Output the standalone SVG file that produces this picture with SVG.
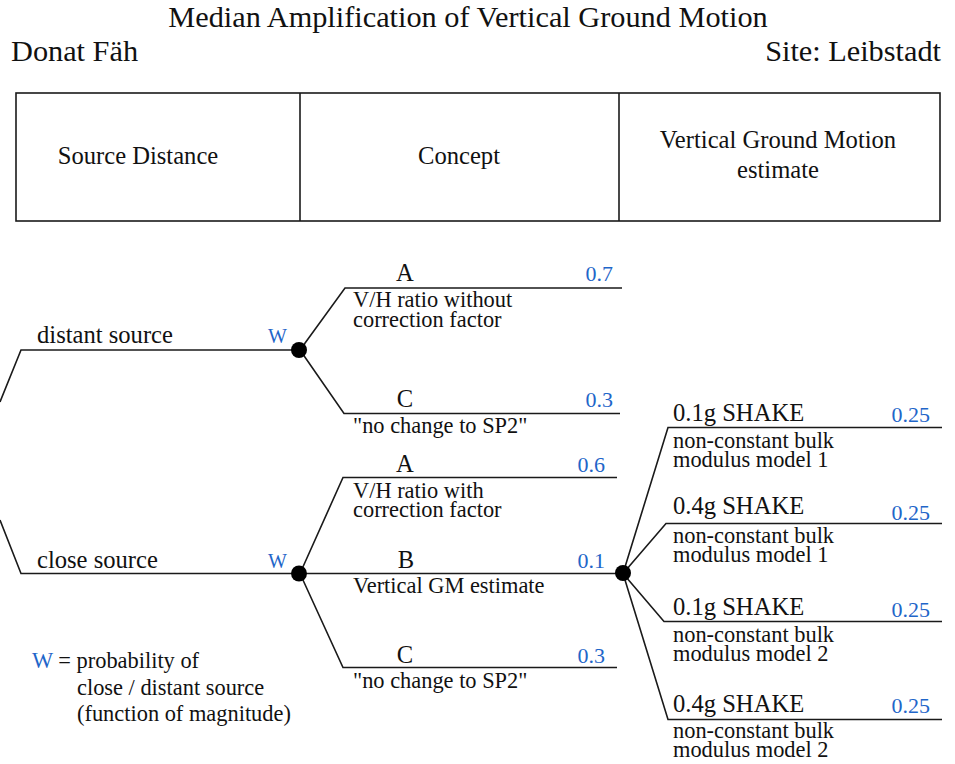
<svg xmlns="http://www.w3.org/2000/svg" width="955" height="764" viewBox="0 0 955 764">
<style>
text{font-family:"Liberation Serif","Times New Roman",serif;fill:#111}
.t{font-size:30.3px}
.h{font-size:24.6px}
.br{font-size:24.6px}
.s{font-size:22.4px}
.v{font-size:22px;fill:#1f66c9;text-anchor:end}
.w{font-size:20px;fill:#1f66c9}
.ln{fill:none;stroke:#1a1a1a;stroke-width:1.6}
.dot{fill:#000}
</style>
<rect width="955" height="764" fill="#fff"/>
<g id="title">
<text class="t" x="468" y="27" text-anchor="middle">Median Amplification of Vertical Ground Motion</text>
<text class="t" x="11" y="61">Donat Fäh</text>
<text class="t" x="941" y="61" text-anchor="end">Site: Leibstadt</text>
</g>
<g id="header">
<rect class="ln" x="16" y="93" width="924" height="128"/>
<line class="ln" x1="300" y1="93" x2="300" y2="221"/>
<line class="ln" x1="619" y1="93" x2="619" y2="221"/>
<text class="h" x="138" y="164" text-anchor="middle">Source Distance</text>
<text class="h" x="459" y="164" text-anchor="middle">Concept</text>
<text class="h" x="778" text-anchor="middle"><tspan x="778" y="148">Vertical Ground Motion</tspan><tspan x="778" y="178">estimate</tspan></text>
</g>
<g id="connectors">
<polyline class="ln" points="0,402 21,350 300,350"/>
<polyline class="ln" points="0,520 21,573.5 300,573.5"/>
<polyline class="ln" points="300,350 345,288 622,288"/>
<polyline class="ln" points="300,350 344,413.5 620,413.5"/>
<polyline class="ln" points="300,573.5 343,477.5 617,477.5"/>
<polyline class="ln" points="300,573.5 623,573.5"/>
<polyline class="ln" points="300,573.5 343,667.5 617,667.5"/>
<polyline class="ln" points="623,573.5 668,427.5 942,427.5"/>
<polyline class="ln" points="623,573.5 666,523.5 942,523.5"/>
<polyline class="ln" points="623,573.5 664,621.5 942,621.5"/>
<polyline class="ln" points="623,573.5 668,719.5 942,719.5"/>
</g>
<g id="distant-source">
<text class="br" x="37" y="343">distant source</text>
<text class="w" x="287" y="343" text-anchor="end">W</text>
<circle class="dot" cx="299" cy="350" r="8"/>
</g>
<g id="close-source">
<text class="br" x="37" y="568">close source</text>
<text class="w" x="287" y="568" text-anchor="end">W</text>
<circle class="dot" cx="299" cy="573.5" r="8"/>
</g>
<g id="distant-A">
<text class="br" x="405" y="281" text-anchor="middle">A</text>
<text class="v" x="613" y="281">0.7</text>
<text class="s"><tspan x="353" y="307">V/H ratio without</tspan><tspan x="353" y="327">correction factor</tspan></text>
</g>
<g id="distant-C">
<text class="br" x="405" y="407" text-anchor="middle">C</text>
<text class="v" x="613" y="407">0.3</text>
<text class="s" x="353" y="433">"no change to SP2"</text>
</g>
<g id="close-A">
<text class="br" x="405" y="472" text-anchor="middle">A</text>
<text class="v" x="605" y="472">0.6</text>
<text class="s"><tspan x="353" y="498">V/H ratio with</tspan><tspan x="353" y="517">correction factor</tspan></text>
</g>
<g id="close-B">
<text class="br" x="406" y="568" text-anchor="middle">B</text>
<text class="v" x="605" y="568">0.1</text>
<text class="s" x="353" y="593">Vertical GM estimate</text>
<circle class="dot" cx="623" cy="573" r="8"/>
</g>
<g id="close-C">
<text class="br" x="405" y="663" text-anchor="middle">C</text>
<text class="v" x="605" y="663">0.3</text>
<text class="s" x="353" y="688">"no change to SP2"</text>
</g>
<g id="gm1">
<text class="br" x="673" y="421">0.1g SHAKE</text>
<text class="v" x="930" y="422">0.25</text>
<text class="s"><tspan x="673" y="448">non-constant bulk</tspan><tspan x="673" y="467">modulus model 1</tspan></text>
</g>
<g id="gm2">
<text class="br" x="673" y="514">0.4g SHAKE</text>
<text class="v" x="930" y="520">0.25</text>
<text class="s"><tspan x="673" y="543">non-constant bulk</tspan><tspan x="673" y="562">modulus model 1</tspan></text>
</g>
<g id="gm3">
<text class="br" x="673" y="615">0.1g SHAKE</text>
<text class="v" x="930" y="617">0.25</text>
<text class="s"><tspan x="673" y="642">non-constant bulk</tspan><tspan x="673" y="661">modulus model 2</tspan></text>
</g>
<g id="gm4">
<text class="br" x="673" y="712">0.4g SHAKE</text>
<text class="v" x="930" y="713">0.25</text>
<text class="s"><tspan x="673" y="738">non-constant bulk</tspan><tspan x="673" y="757">modulus model 2</tspan></text>
</g>
<g id="legend">
<text class="s"><tspan x="32" y="668"><tspan fill="#1f66c9">W</tspan> = probability of</tspan><tspan x="77" y="695">close / distant source</tspan><tspan x="77" y="721">(function of magnitude)</tspan></text>
</g>
</svg>
